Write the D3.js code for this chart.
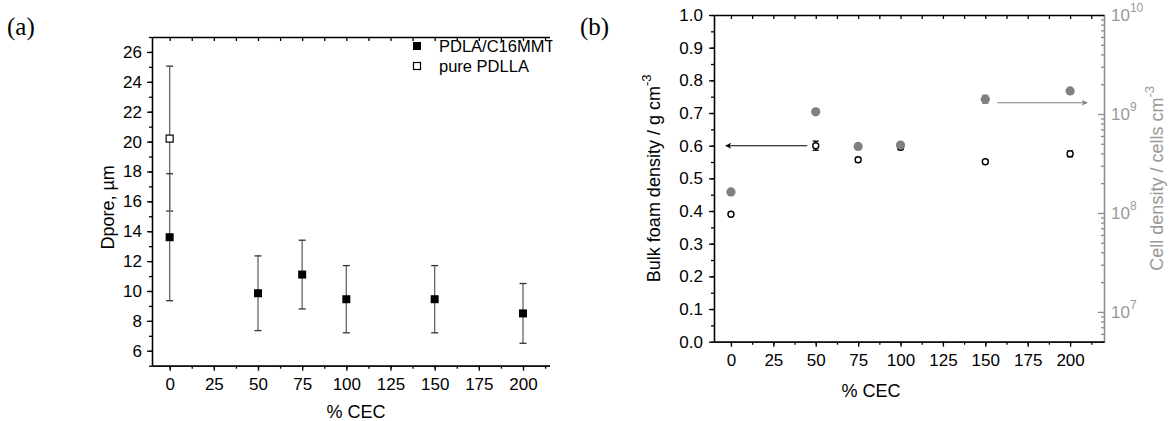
<!DOCTYPE html>
<html>
<head>
<meta charset="utf-8">
<script src="https://cdn.jsdelivr.net/npm/d3@7"></script>
<style>
  body { margin: 0; background: #fff; }
  svg { display: block; font-family: "Liberation Sans", Arial, sans-serif; }
  .axis path, .axis line { stroke: #000; stroke-width: 1.3; }
  .axis text { font-family: "Liberation Sans", Arial, sans-serif; font-size: 17px; fill: #000; }
  .gray path, .gray line { stroke: #8c8c8c; }
  .gray text { fill: #999; }
</style>
</head>
<body>
<svg id="chart" width="1170" height="421"></svg>
<script>
// panel (a): pore diameter vs % CEC
const cecComposite = [0, 50, 75, 100, 150, 200];
const dporeComposite = [13.6, 9.85, 11.1, 9.45, 9.45, 8.5];
const dporeCompositeErr = [4.25, 2.5, 2.3, 2.25, 2.25, 2.0];
const cecPure = [0];
const dporePure = [20.2];
const dporePureErr = [4.85];
const seriesNamesA = ['PDLA/C16MMT', 'pure PDLLA'];

// panel (b): bulk foam density (left) and cell density (right, log)
const cecB = [0, 50, 75, 100, 150, 200];
const bulkDensity = [0.39, 0.6, 0.557, 0.595, 0.551, 0.575];
const bulkDensityErr = [0.005, 0.014, 0.007, 0.007, 0.006, 0.009];
const cellDensity = [1.63e8, 1.05e9, 4.7e8, 4.85e8, 1.41e9, 1.71e9];
const cellDensityErr = [0.05e8, 0.06e9, 0.2e8, 0.3e8, 0.13e9, 0.06e9];

// tick values
const xTicks = [0, 25, 50, 75, 100, 125, 150, 175, 200];
const xMinorTicks = d3.range(0, 215, 12.5);
const yTicksA = [6, 8, 10, 12, 14, 16, 18, 20, 22, 24, 26];
const yTicksB = [0, 0.1, 0.2, 0.3, 0.4, 0.5, 0.6, 0.7, 0.8, 0.9, 1.0];
const yRightTicks = [1e7, 1e8, 1e9, 1e10];

// arrows in data units: [x from, x to, y]
const arrowBulk = [45, -3, 0.6];
const arrowCell = [157, 210, 1.3e9];

const svg = d3.select('#chart');
const panelA = { left: 152, right: 549.5, top: 37, bottom: 365.7 };
const panelB = { left: 714, right: 1104, top: 15, bottom: 341.7 };

function supText(sel, base, sup, supSize) {
  sel.text(null);
  sel.append('tspan').text(base);
  sel.append('tspan').attr('dy', -9).attr('font-size', supSize).text(sup);
}

// ---------- panel (a) ----------
const xA = d3.scaleLinear().domain([-10, 215]).range([panelA.left, panelA.right]);
const yA = d3.scaleLinear().domain([5, 27]).range([panelA.bottom, panelA.top]);

const gA = svg.append('g');

gA.append('g')
  .attr('class', 'axis')
  .attr('transform', `translate(0,${panelA.bottom})`)
  .call(d3.axisBottom(xA).tickValues(xMinorTicks).tickSize(3).tickFormat('').tickSizeOuter(0));
gA.append('g')
  .attr('class', 'axis')
  .attr('transform', `translate(0,${panelA.bottom})`)
  .call(d3.axisBottom(xA).tickValues(xTicks).tickSize(5).tickPadding(7).tickSizeOuter(0));
gA.append('g')
  .attr('class', 'axis')
  .attr('transform', `translate(0,${panelA.top})`)
  .call(d3.axisBottom(xA).tickValues(xMinorTicks).tickSize(4).tickFormat('').tickSizeOuter(0));
gA.append('g')
  .attr('class', 'axis')
  .attr('transform', `translate(${panelA.left},0)`)
  .call(d3.axisLeft(yA).tickValues(d3.range(5, 28, 1)).tickSize(3).tickFormat('').tickSizeOuter(0));
gA.append('g')
  .attr('class', 'axis')
  .attr('transform', `translate(${panelA.left},0)`)
  .call(d3.axisLeft(yA).tickValues(yTicksA).tickSize(5).tickPadding(5).tickSizeOuter(0));

const compositeA = cecComposite.map((c, i) => ({ x: c, y: dporeComposite[i], e: dporeCompositeErr[i] }));
const pureA = cecPure.map((c, i) => ({ x: c, y: dporePure[i], e: dporePureErr[i] }));

function errorBars(g, data, xs, ys, stem, cap, capW) {
  const eb = g.append('g').selectAll('g').data(data).join('g');
  eb.append('line')
    .attr('x1', d => xs(d.x)).attr('x2', d => xs(d.x))
    .attr('y1', d => ys(d.y - d.e)).attr('y2', d => ys(d.y + d.e))
    .attr('stroke', stem).attr('stroke-width', 1.3);
  [-1, 1].forEach(s => {
    eb.append('line')
      .attr('x1', d => xs(d.x) - capW).attr('x2', d => xs(d.x) + capW)
      .attr('y1', d => ys(d.y + s * d.e)).attr('y2', d => ys(d.y + s * d.e))
      .attr('stroke', cap).attr('stroke-width', 1.3);
  });
}

errorBars(gA, pureA, xA, yA, '#666', '#333', 3.5);
errorBars(gA, compositeA, xA, yA, '#666', '#333', 3.5);

gA.append('g').selectAll('rect').data(pureA).join('rect')
  .attr('x', d => xA(d.x) - 3.5).attr('y', d => yA(d.y) - 3.5)
  .attr('width', 7).attr('height', 7)
  .attr('fill', '#fff').attr('stroke', '#000').attr('stroke-width', 1.2);
gA.append('g').selectAll('rect').data(compositeA).join('rect')
  .attr('x', d => xA(d.x) - 4).attr('y', d => yA(d.y) - 4)
  .attr('width', 8).attr('height', 8)
  .attr('fill', '#000');

// legend, clipped at the frame like the original
svg.append('clipPath').attr('id', 'clipA')
  .append('rect').attr('x', panelA.left).attr('y', panelA.top)
  .attr('width', panelA.right - panelA.left + 3).attr('height', panelA.bottom - panelA.top);
const legA = gA.append('g').attr('clip-path', 'url(#clipA)');
seriesNamesA.forEach((name, i) => {
  const ly = 46 + i * 20;
  if (i === 0) {
    legA.append('rect').attr('x', 413).attr('y', ly - 4).attr('width', 8).attr('height', 8).attr('fill', '#000');
  } else {
    legA.append('rect').attr('x', 413.5).attr('y', ly - 3.5).attr('width', 7).attr('height', 7)
      .attr('fill', '#fff').attr('stroke', '#000').attr('stroke-width', 1.2);
  }
  legA.append('text').attr('x', 439).attr('y', ly + 6).attr('font-size', 16.5).text(name);
});

gA.append('text')
  .attr('transform', `translate(114,${(panelA.top + panelA.bottom) / 2 + 6}) rotate(-90)`)
  .attr('text-anchor', 'middle').attr('font-size', 18).text('Dpore, µm');
gA.append('text')
  .attr('x', 356).attr('y', 418).attr('text-anchor', 'middle').attr('font-size', 18).text('% CEC');
svg.append('text')
  .attr('x', 7).attr('y', 35).attr('font-family', '"Liberation Serif", "Times New Roman", serif')
  .attr('font-size', 25).text('(a)');

// ---------- panel (b) ----------
const xB = d3.scaleLinear().domain([-10, 220]).range([panelB.left, panelB.right]);
const yB = d3.scaleLinear().domain([0, 1]).range([panelB.bottom, panelB.top]);
const yR = d3.scaleLog().domain([5e6, 1e10]).range([panelB.bottom, panelB.top]);

const gB = svg.append('g');

const logMinor = [];
[1e6, 1e7, 1e8, 1e9].forEach(p => d3.range(2, 10).forEach(k => {
  const v = k * p;
  if (v >= 5e6 && v <= 1e10) logMinor.push(v);
}));

gB.append('g')
  .attr('class', 'axis gray')
  .attr('transform', `translate(${panelB.right},0)`)
  .call(d3.axisRight(yR).tickValues(logMinor).tickSize(-3).tickFormat('').tickSizeOuter(0));
gB.append('g')
  .attr('class', 'axis gray')
  .attr('transform', `translate(${panelB.right},0)`)
  .call(d3.axisRight(yR).tickValues(yRightTicks).tickSize(-6).tickPadding(7).tickSizeOuter(0))
  .selectAll('.tick text')
  .each(function (d) { supText(d3.select(this), '10', Math.round(Math.log10(d)), 12); });

gB.append('g')
  .attr('class', 'axis')
  .attr('transform', `translate(0,${panelB.bottom})`)
  .call(d3.axisBottom(xB).tickValues(xMinorTicks).tickSize(3).tickFormat('').tickSizeOuter(0));
gB.append('g')
  .attr('class', 'axis')
  .attr('transform', `translate(0,${panelB.bottom})`)
  .call(d3.axisBottom(xB).tickValues(xTicks).tickSize(5).tickPadding(7).tickSizeOuter(0));
gB.append('g')
  .attr('class', 'axis')
  .attr('transform', `translate(0,${panelB.top})`)
  .call(d3.axisBottom(xB).tickValues(xMinorTicks).tickSize(4).tickFormat('').tickSizeOuter(0));
gB.append('g')
  .attr('class', 'axis')
  .attr('transform', `translate(${panelB.left},0)`)
  .call(d3.axisLeft(yB).tickValues(d3.range(0, 1.001, 0.05)).tickSize(3).tickFormat('').tickSizeOuter(0));
gB.append('g')
  .attr('class', 'axis')
  .attr('transform', `translate(${panelB.left},0)`)
  .call(d3.axisLeft(yB).tickValues(yTicksB).tickSize(5).tickPadding(6).tickFormat(d3.format('.1f')).tickSizeOuter(0));

const bulkData = cecB.map((c, i) => ({ x: c, y: bulkDensity[i], e: bulkDensityErr[i] }));
const cellData = cecB.map((c, i) => ({ x: c, y: cellDensity[i], e: cellDensityErr[i] }));

errorBars(gB, bulkData, xB, yB, '#000', '#000', 3);
gB.append('g').selectAll('circle').data(bulkData).join('circle')
  .attr('cx', d => xB(d.x)).attr('cy', d => yB(d.y)).attr('r', 3)
  .attr('fill', '#fff').attr('stroke', '#000').attr('stroke-width', 1.4);

errorBars(gB, cellData, xB, yR, '#808080', '#808080', 3);
gB.append('g').selectAll('circle').data(cellData).join('circle')
  .attr('cx', d => xB(d.x)).attr('cy', d => yR(d.y)).attr('r', 4.6)
  .attr('fill', '#808080');

// arrows
const defs = svg.append('defs');
[['arrBlack', '#000'], ['arrGray', '#808080']].forEach(([id, c]) => {
  defs.append('marker').attr('id', id).attr('viewBox', '0 0 10 10')
    .attr('refX', 9).attr('refY', 5).attr('markerWidth', 9).attr('markerHeight', 6)
    .attr('markerUnits', 'userSpaceOnUse').attr('orient', 'auto')
    .append('path').attr('d', 'M0,0 L10,5 L0,10 L3,5 Z').attr('fill', c);
});
gB.append('line')
  .attr('x1', xB(arrowBulk[0])).attr('x2', xB(arrowBulk[1]))
  .attr('y1', yB(arrowBulk[2])).attr('y2', yB(arrowBulk[2]))
  .attr('stroke', '#000').attr('stroke-width', 1.1).attr('marker-end', 'url(#arrBlack)');
gB.append('line')
  .attr('x1', xB(arrowCell[0])).attr('x2', xB(arrowCell[1]))
  .attr('y1', yR(arrowCell[2])).attr('y2', yR(arrowCell[2]))
  .attr('stroke', '#808080').attr('stroke-width', 1.1).attr('marker-end', 'url(#arrGray)');

const lb = gB.append('text')
  .attr('transform', `translate(660,${(panelB.top + panelB.bottom) / 2}) rotate(-90)`)
  .attr('text-anchor', 'middle').attr('font-size', 18);
lb.append('tspan').text('Bulk foam density / g cm');
lb.append('tspan').attr('dy', -9).attr('font-size', 13).text('-3');

const rb = gB.append('text')
  .attr('transform', `translate(1163,${(panelB.top + panelB.bottom) / 2}) rotate(-90)`)
  .attr('text-anchor', 'middle').attr('font-size', 18).attr('fill', '#999');
rb.append('tspan').text('Cell density / cells cm');
rb.append('tspan').attr('dy', -9).attr('font-size', 13).text('-3');

gB.append('text')
  .attr('x', 871).attr('y', 397).attr('text-anchor', 'middle').attr('font-size', 18).text('% CEC');
svg.append('text')
  .attr('x', 580).attr('y', 35).attr('font-family', '"Liberation Serif", "Times New Roman", serif')
  .attr('font-size', 25).text('(b)');
</script>
</body>
</html>
